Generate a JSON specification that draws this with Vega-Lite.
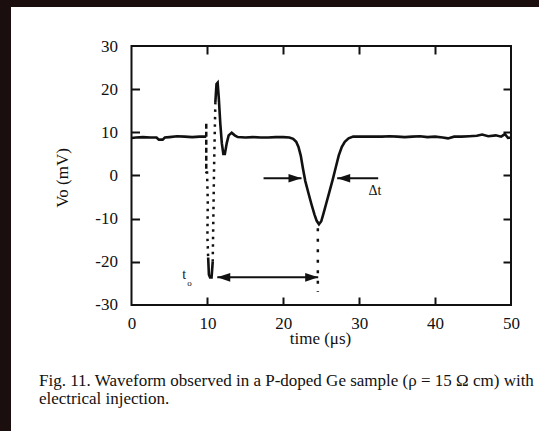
{
  "$schema": "https://vega.github.io/schema/vega-lite/v6.json",
  "width": 528,
  "height": 424,
  "autosize": {"type": "none"},
  "padding": {"left": 11, "top": 7, "right": 0, "bottom": 0},
  "background": "#1a0e0e",
  "config": {
    "view": {"fill": "white", "stroke": null},
    "axis": {"grid": false, "domain": false, "labelFont": "Liberation Serif", "titleFont": "Liberation Serif", "labelColor": "#111", "titleColor": "#111", "tickColor": "#111", "titleFontWeight": "normal", "labelOverlap": false, "labelFlush": false, "labelBound": false}
  },
  "title": {
    "text": ["Fig. 11.  Waveform observed in a P-doped Ge sample (ρ = 15 Ω cm) with", "electrical injection."],
    "orient": "bottom", "anchor": "start", "frame": "group", "offset": -58, "dx": 28,
    "font": "Liberation Serif", "fontSize": 17, "fontWeight": "normal", "color": "#111", "lineHeight": 17.5
  },
  "datasets": {
    "frame": [{"x0": 0, "x1": 50, "y0": -30, "y1": 30}],
    "trace": [
      {"t": 0, "v": 8.7, "s": 1}, {"t": 0.6, "v": 8.8, "s": 1}, {"t": 1.5, "v": 8.9, "s": 1}, {"t": 2.5, "v": 8.8, "s": 1},
      {"t": 3.3, "v": 8.8, "s": 1}, {"t": 3.6, "v": 8.3, "s": 1}, {"t": 4.1, "v": 8.3, "s": 1}, {"t": 4.4, "v": 8.8, "s": 1},
      {"t": 5, "v": 8.9, "s": 1}, {"t": 6, "v": 9.1, "s": 1}, {"t": 7, "v": 9.0, "s": 1}, {"t": 8, "v": 8.9, "s": 1},
      {"t": 9, "v": 9.0, "s": 1}, {"t": 9.85, "v": 9.0, "s": 1},
      {"t": 10.1, "v": -19, "s": 3}, {"t": 10.2, "v": -23.0, "s": 3}, {"t": 10.35, "v": -23.6, "s": 3}, {"t": 10.55, "v": -23.6, "s": 3}, {"t": 10.7, "v": -20, "s": 3},
      {"t": 11.05, "v": 17, "s": 2}, {"t": 11.2, "v": 21.2, "s": 2}, {"t": 11.35, "v": 21.5, "s": 2}, {"t": 11.5, "v": 18, "s": 2},
      {"t": 11.7, "v": 12, "s": 2}, {"t": 11.9, "v": 7.5, "s": 2}, {"t": 12.1, "v": 5.0, "s": 2}, {"t": 12.3, "v": 5.0, "s": 2},
      {"t": 12.55, "v": 7.5, "s": 2}, {"t": 12.8, "v": 9.3, "s": 2}, {"t": 13.2, "v": 9.9, "s": 2}, {"t": 13.6, "v": 9.3, "s": 2},
      {"t": 14, "v": 8.9, "s": 2}, {"t": 15, "v": 8.8, "s": 2}, {"t": 16, "v": 8.9, "s": 2}, {"t": 17, "v": 8.8, "s": 2},
      {"t": 18, "v": 8.8, "s": 2}, {"t": 19, "v": 8.9, "s": 2}, {"t": 20, "v": 8.9, "s": 2}, {"t": 20.8, "v": 8.8, "s": 2},
      {"t": 21.3, "v": 8.5, "s": 2}, {"t": 21.7, "v": 7.8, "s": 2}, {"t": 22.0, "v": 6.6, "s": 2}, {"t": 22.3, "v": 4.6, "s": 2},
      {"t": 22.6, "v": 1.5, "s": 2}, {"t": 22.9, "v": -1.3, "s": 2}, {"t": 23.3, "v": -4.0, "s": 2}, {"t": 23.7, "v": -6.6, "s": 2},
      {"t": 24.1, "v": -9.0, "s": 2}, {"t": 24.4, "v": -10.5, "s": 2}, {"t": 24.7, "v": -11.3, "s": 2}, {"t": 25.0, "v": -10.6, "s": 2},
      {"t": 25.3, "v": -8.8, "s": 2}, {"t": 25.7, "v": -6.2, "s": 2}, {"t": 26.1, "v": -3.6, "s": 2}, {"t": 26.5, "v": -1.0, "s": 2},
      {"t": 26.9, "v": 1.8, "s": 2}, {"t": 27.3, "v": 4.6, "s": 2}, {"t": 27.7, "v": 6.6, "s": 2}, {"t": 28.1, "v": 7.8, "s": 2},
      {"t": 28.6, "v": 8.6, "s": 2}, {"t": 29.2, "v": 9.0, "s": 2}, {"t": 30, "v": 9.0, "s": 2}, {"t": 31, "v": 9.0, "s": 2},
      {"t": 32, "v": 9.0, "s": 2}, {"t": 33, "v": 9.0, "s": 2}, {"t": 34, "v": 9.1, "s": 2}, {"t": 35, "v": 9.0, "s": 2},
      {"t": 36, "v": 8.9, "s": 2}, {"t": 37, "v": 9.0, "s": 2}, {"t": 38, "v": 9.1, "s": 2}, {"t": 39, "v": 8.9, "s": 2},
      {"t": 40, "v": 9.0, "s": 2}, {"t": 41, "v": 8.8, "s": 2}, {"t": 41.7, "v": 8.6, "s": 2}, {"t": 42.5, "v": 9.0, "s": 2},
      {"t": 43.5, "v": 9.0, "s": 2}, {"t": 44.5, "v": 9.1, "s": 2}, {"t": 45.5, "v": 9.2, "s": 2}, {"t": 46.2, "v": 9.5, "s": 2},
      {"t": 47, "v": 9.1, "s": 2}, {"t": 48, "v": 9.3, "s": 2}, {"t": 48.7, "v": 9.0, "s": 2}, {"t": 49.2, "v": 9.6, "s": 2},
      {"t": 49.6, "v": 8.7, "s": 2}, {"t": 50, "v": 8.8, "s": 2}
    ],
    "fast": [
      {"i": 1, "t": 9.85, "v": 12.0, "g": "a"}, {"i": 2, "t": 9.85, "v": 0.5, "g": "a"},
      {"i": 3, "t": 9.95, "v": 1.0, "g": "b"}, {"i": 4, "t": 10.05, "v": -6, "g": "b"}, {"i": 5, "t": 10.0, "v": -14, "g": "b"}, {"i": 6, "t": 10.1, "v": -19, "g": "b"},
      {"i": 7, "t": 10.7, "v": -20, "g": "c"}, {"i": 8, "t": 10.8, "v": -8, "g": "c"}, {"i": 9, "t": 10.88, "v": 2, "g": "c"}, {"i": 10, "t": 10.97, "v": 10, "g": "c"}, {"i": 11, "t": 11.05, "v": 17, "g": "c"},
      {"i": 12, "t": 24.55, "v": -12.2, "g": "d"}, {"i": 13, "t": 24.55, "v": -27, "g": "d"}
    ],
    "arrows": [
      {"a": 11.3, "b": 24.6, "v": -23.6},
      {"a": 17.4, "b": 22.4, "v": -0.65},
      {"a": 27.1, "b": 32.5, "v": -0.65}
    ],
    "heads": [
      {"t": 11.3, "v": -23.6, "d": "L"}, {"t": 24.6, "v": -23.6, "d": "R"},
      {"t": 22.4, "v": -0.65, "d": "R"}, {"t": 27.1, "v": -0.65, "d": "L"}
    ],
    "texts": [
      {"label": "Δt", "t": 32.08, "v": -3.5, "k": "a"},
      {"label": "t", "t": 6.94, "v": -23.1, "k": "a"},
      {"label": "o", "t": 7.64, "v": -24.8, "k": "b"}
    ]
  },
  "resolve": {"axis": {"x": "independent", "y": "independent"}},
  "layer": [
    {
      "data": {"name": "frame"},
      "mark": {"type": "rect", "fill": "white", "fillOpacity": 0, "stroke": "#111", "strokeWidth": 2},
      "encoding": {
        "x": {"field": "x0", "type": "quantitative", "scale": {"domain": [-15.876, 53.689], "nice": false, "zero": false},
          "axis": {"orient": "bottom", "offset": -126, "values": [0, 10, 20, 30, 40, 50], "ticks": false, "tickSize": 0, "labelPadding": 10, "labelFontSize": 17, "labelExpr": "''+datum.value", "title": "time (μs)", "titleFontSize": 17, "titleX": 309, "titleY": 33, "titleBaseline": "middle", "titleAlign": "center"}},
        "x2": {"field": "x1"},
        "y": {"field": "y0", "type": "quantitative", "scale": {"domain": [-59.19, 39.035], "nice": false, "zero": false},
          "axis": {"orient": "left", "offset": -120.5, "values": [-30, -20, -10, 0, 10, 20, 30], "ticks": false, "tickSize": 0, "labelPadding": 14, "labelFontSize": 17, "labelExpr": "''+datum.value", "title": "Vo (mV)", "titleFontSize": 17, "titleX": -69.5, "titleY": 170.5, "titleAngle": -90, "titleBaseline": "middle", "titleAlign": "center"}},
        "y2": {"field": "y1"}
      }
    },
    {
      "data": {"name": "trace"},
      "mark": {"type": "line", "color": "#111", "strokeWidth": 2.6},
      "encoding": {
        "x": {"field": "t", "type": "quantitative", "scale": {"domain": [-15.876, 53.689], "nice": false, "zero": false},
          "axis": {"orient": "top", "offset": -298, "values": [10, 20, 30, 40], "labels": false, "tickSize": 8, "tickWidth": 2, "title": null}},
        "y": {"field": "v", "type": "quantitative", "scale": {"domain": [-59.19, 39.035], "nice": false, "zero": false},
          "axis": {"orient": "right", "offset": -407.5, "values": [-20, -10, 0, 10, 20], "labels": false, "tickSize": 8, "tickWidth": 2, "title": null}},
        "detail": {"field": "s", "type": "nominal"}
      }
    },
    {
      "data": {"name": "fast"},
      "mark": {"type": "line", "color": "#111", "strokeWidth": 2.5, "strokeCap": "butt"},
      "encoding": {
        "x": {"field": "t", "type": "quantitative", "scale": {"domain": [-15.876, 53.689], "nice": false, "zero": false},
          "axis": {"orient": "bottom", "offset": -385, "values": [10, 20, 30, 40], "labels": false, "tickSize": 8, "tickWidth": 2, "title": null}},
        "y": {"field": "v", "type": "quantitative", "scale": {"domain": [-59.19, 39.035], "nice": false, "zero": false},
          "axis": {"orient": "left", "offset": -500, "values": [-20, -10, 0, 10, 20], "labels": false, "tickSize": 8, "tickWidth": 2, "title": null}},
        "order": {"field": "i", "type": "quantitative"},
        "strokeDash": {"field": "g", "type": "nominal", "scale": {"domain": ["a", "b", "c", "d"], "range": [[5, 3], [2.5, 5], [2.5, 5], [3, 7.5]]}, "legend": null}
      }
    },
    {
      "data": {"name": "arrows"},
      "mark": {"type": "rule", "color": "#111", "strokeWidth": 2},
      "encoding": {
        "x": {"field": "a", "type": "quantitative", "axis": null},
        "x2": {"field": "b"},
        "y": {"field": "v", "type": "quantitative", "axis": null}
      }
    },
    {
      "data": {"name": "heads"},
      "mark": {"type": "point", "filled": true, "color": "#111", "size": 676, "opacity": 1, "strokeWidth": 0},
      "encoding": {
        "x": {"field": "t", "type": "quantitative", "axis": null},
        "y": {"field": "v", "type": "quantitative", "axis": null},
        "shape": {"field": "d", "type": "nominal", "scale": {"domain": ["L", "R"], "range": ["M 0 0 L 1 -0.33 L 1 0.33 Z", "M 0 0 L -1 -0.33 L -1 0.33 Z"]}, "legend": null}
      }
    },
    {
      "data": {"name": "texts"},
      "transform": [{"filter": "datum.k == 'a'"}],
      "mark": {"type": "text", "font": "Liberation Serif", "fontSize": 14, "color": "#111", "align": "center", "baseline": "middle"},
      "encoding": {
        "x": {"field": "t", "type": "quantitative", "axis": null},
        "y": {"field": "v", "type": "quantitative", "axis": null},
        "text": {"field": "label"}
      }
    },
    {
      "data": {"name": "texts"},
      "transform": [{"filter": "datum.k == 'b'"}],
      "mark": {"type": "text", "font": "Liberation Serif", "fontSize": 9, "color": "#111", "align": "center", "baseline": "middle"},
      "encoding": {
        "x": {"field": "t", "type": "quantitative", "axis": null},
        "y": {"field": "v", "type": "quantitative", "axis": null},
        "text": {"field": "label"}
      }
    }
  ]
}
